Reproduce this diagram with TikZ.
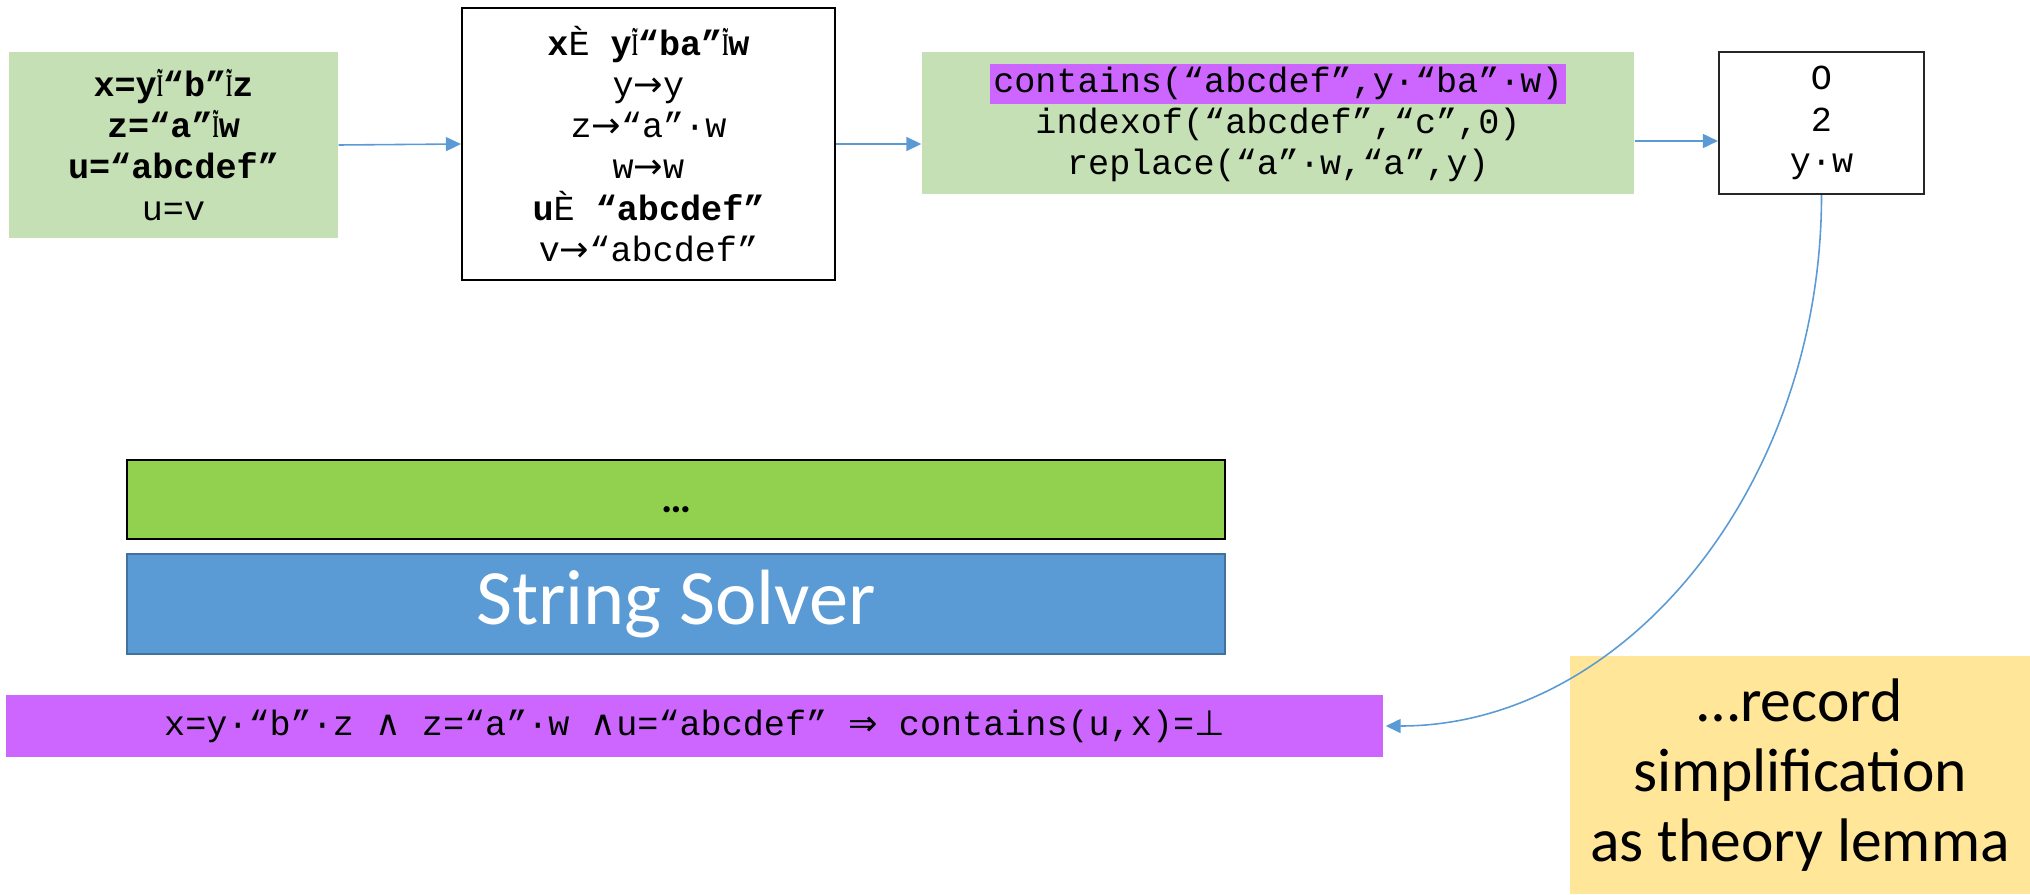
\documentclass[tikz,border=0pt]{standalone}
\usepackage{fontspec}
\setmainfont{Carlito}
\setmonofont{Liberation Mono}
\newfontfamily\glyphfont{Liberation Serif}
\newfontfamily\symfont{DejaVu Sans}
\usetikzlibrary{arrows.meta}
\definecolor{lgreen}{HTML}{C5E0B4}
\definecolor{pgreen}{HTML}{92D050}
\definecolor{pblue}{HTML}{5B9BD5}
\definecolor{dblue}{HTML}{41719C}
\definecolor{lila}{HTML}{CC66FF}
\definecolor{lyellow}{HTML}{FFE699}
\newcommand{\dotq}{{\glyphfont\scalebox{0.45}[0.9]{Ĩ}}}
\newcommand{\mapsq}{{\mdseries È}}
\newcommand{\arrq}{{\symfont →}}
\setlength{\fboxsep}{1pt}
\begin{document}
\begin{tikzpicture}[every node/.style={font=\ttfamily\fontsize{10}{11.7}\selectfont,align=center,inner sep=0pt},
  arr/.style={draw=pblue,line width=0.45pt,-{Triangle[length=1.5mm,width=1.4mm]}}]
\useasboundingbox (0,0) rectangle (20.3,8.94);
\node[fill=lgreen,minimum width=3.29cm,minimum height=1.86cm] (facts) at (1.735,7.49)
  {\textbf{x=y\dotq“b”\dotq z}\\ \textbf{z=“a”\dotq w}\\ \textbf{u=“abcdef”}\\ u=v};
\node[draw,line width=0.6pt,minimum width=3.73cm,minimum height=2.72cm] (subst) at (6.485,7.50)
  {\textbf{x\mapsq\ y\dotq“ba”\dotq w}\\ y\arrq y\\ z\arrq“a”·w\\ w\arrq w\\ \textbf{u\mapsq\ “abcdef”}\\ v\arrq“abcdef”};
\node[fill=lgreen,minimum width=7.12cm,minimum height=1.42cm] (terms) at (12.78,7.71)
  {\colorbox{lila}{contains(“abcdef”,y·“ba”·w)}\\ indexof(“abcdef”,“c”,0)\\ replace(“a”·w,“a”,y)};
\node[draw=black!85,line width=0.6pt,minimum width=2.05cm,minimum height=1.42cm] (vals) at (18.215,7.71)
  {O\\ 2\\ y·w};
\draw[arr] (facts.east) -- (subst.west);
\draw[arr] (subst.east) -- (subst.east -| terms.west);
\draw[arr] ([yshift=-1.8mm]terms.east) -- ([yshift=-1.8mm]terms.east -| vals.west);
\node[draw,line width=0.6pt,fill=pgreen,minimum width=10.98cm,minimum height=0.79cm] (theories) at (6.76,3.945) {};
\node[font=\rmfamily\bfseries\fontsize{12}{14}\selectfont] (dots) at ([yshift=-0.1cm]theories.center) {…};
\node[draw=dblue,line width=0.6pt,fill=pblue,text=white,minimum width=10.98cm,minimum height=1.0cm,font=\rmfamily\fontsize{22.3}{26}\selectfont] (solver) at (6.76,2.90) {String Solver};
\node[fill=lila,minimum width=13.77cm,minimum height=0.62cm] (lemma) at (6.945,1.68)
  {x=y·“b”·z {\symfont ∧} z=“a”·w {\symfont ∧}u=“abcdef” {\symfont ⇒} contains(u,x)={\symfont ⊥}};
\node[fill=lyellow,minimum width=4.6cm,minimum height=2.38cm,font=\rmfamily\fontsize{17.5}{20}\selectfont] (note) at (18.0,1.19)
  {…record\\ simplification\\ as theory lemma};
\draw[arr] (vals.south) .. controls +(0,-2.9) and +(2.4,0) .. ([xshift=0.2mm]lemma.east);
\end{tikzpicture}
\end{document}
